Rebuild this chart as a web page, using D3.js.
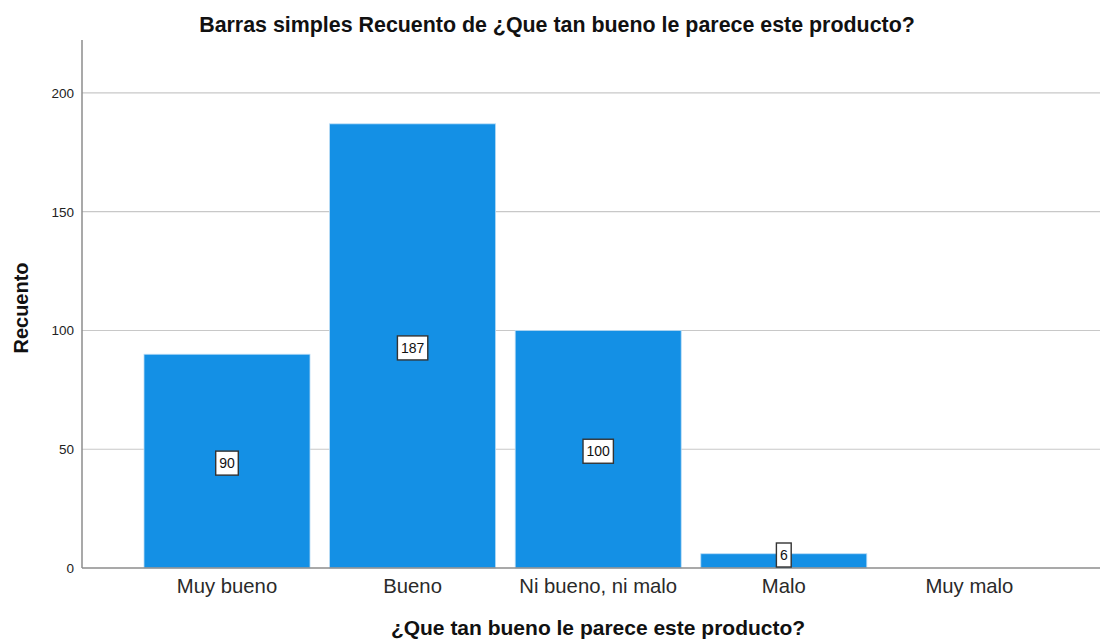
<!DOCTYPE html>
<html>
<head>
<meta charset="utf-8">
<script src="https://cdn.jsdelivr.net/npm/d3@7"></script>
<style>
  html, body { margin: 0; padding: 0; background: #fff; }
  svg { display: block; font-family: "Liberation Sans", Arial, sans-serif; }
</style>
</head>
<body>
<svg id="chart" width="1100" height="641"></svg>
<script>
// Frequency counts per answer category
const categories = ["Muy bueno", "Bueno", "Ni bueno, ni malo", "Malo", "Muy malo"];
const counts = [90, 187, 100, 6, 0];
const yTicks = [0, 50, 100, 150, 200];

const chartTitle = "Barras simples Recuento de ¿Que tan bueno le parece este producto?";
const xTitle = "¿Que tan bueno le parece este producto?";
const yTitle = "Recuento";

const svg = d3.select("#chart");
const plot = { left: 82, right: 1100, top: 40, bottom: 568 };

const x = d3.scaleBand()
  .domain(categories)
  .range([134.2, 1062.2])
  .paddingInner(0.1056)
  .paddingOuter(0.0528);

const y = d3.scaleLinear()
  .domain([0, 222.3])
  .range([plot.bottom, plot.top]);

// Horizontal gridlines
svg.append("g")
  .selectAll("line")
  .data(yTicks.filter(d => d > 0))
  .join("line")
  .attr("x1", plot.left).attr("x2", plot.right)
  .attr("y1", d => y(d)).attr("y2", d => y(d))
  .attr("stroke", "#c8c8c8").attr("stroke-width", 1.2);

// Bars
svg.append("g")
  .selectAll("rect")
  .data(categories.map((c, i) => ({ c, v: counts[i] })).filter(d => d.v > 0))
  .join("rect")
  .attr("x", d => x(d.c))
  .attr("width", x.bandwidth())
  .attr("y", d => y(d.v))
  .attr("height", d => y(0) - y(d.v))
  .attr("fill", "#1490e5")
  .attr("stroke", "#b9dcf6")
  .attr("stroke-width", 0.8);

// Y axis
const yAxis = d3.axisLeft(y).tickValues(yTicks).tickSize(0).tickPadding(8);
const gy = svg.append("g").attr("transform", `translate(${plot.left},0)`).call(yAxis);
gy.select(".domain").remove();
gy.selectAll("text")
  .attr("font-size", 13.5)
  .attr("fill", "#222")
  .attr("font-family", "Liberation Sans, Arial, sans-serif");
svg.append("line")
  .attr("x1", plot.left).attr("x2", plot.left)
  .attr("y1", plot.top).attr("y2", plot.bottom)
  .attr("stroke", "#8c8c8c").attr("stroke-width", 1.5);

// X axis
const xAxis = d3.axisBottom(x).tickSize(0).tickPadding(11);
const gx = svg.append("g").attr("transform", `translate(0,${plot.bottom})`).call(xAxis);
gx.select(".domain").remove();
gx.selectAll("text")
  .attr("font-size", 20.3)
  .attr("fill", "#2a2a2a")
  .attr("font-family", "Liberation Sans, Arial, sans-serif");
svg.append("line")
  .attr("x1", plot.left).attr("x2", plot.right)
  .attr("y1", plot.bottom).attr("y2", plot.bottom)
  .attr("stroke", "#8c8c8c").attr("stroke-width", 1.5);

// Value labels in boxes at each bar's midpoint (kept above the baseline)
const labels = svg.append("g");
categories.forEach((c, i) => {
  const v = counts[i];
  if (v <= 0) return;
  const cx = x(c) + x.bandwidth() / 2;
  const cy = Math.min((y(v) + y(0)) / 2 + 2, y(0) - 13);
  const g = labels.append("g").attr("transform", `translate(${cx},${cy})`);
  const t = g.append("text")
    .attr("text-anchor", "middle")
    .attr("dy", "0.36em")
    .attr("font-size", 14)
    .attr("fill", "#111")
    .text(v);
  const w = t.node().getComputedTextLength();
  g.insert("rect", "text")
    .attr("x", -w / 2 - 3.5).attr("y", -12)
    .attr("width", w + 7).attr("height", 24)
    .attr("fill", "#fff")
    .attr("stroke", "#333").attr("stroke-width", 1.4);
});

// Titles
svg.append("text")
  .attr("x", 557).attr("y", 32)
  .attr("text-anchor", "middle")
  .attr("font-size", 21.4).attr("font-weight", "bold")
  .attr("fill", "#111")
  .text(chartTitle);

svg.append("text")
  .attr("x", 598).attr("y", 635)
  .attr("text-anchor", "middle")
  .attr("font-size", 21).attr("font-weight", "bold")
  .attr("fill", "#111")
  .text(xTitle);

svg.append("text")
  .attr("transform", "translate(28,308) rotate(-90)")
  .attr("text-anchor", "middle")
  .attr("font-size", 20).attr("font-weight", "bold")
  .attr("fill", "#111")
  .text(yTitle);
</script>
</body>
</html>
